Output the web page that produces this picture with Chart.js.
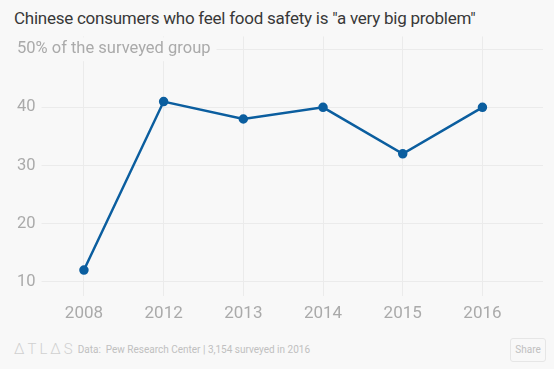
<!DOCTYPE html>
<html>
<head>
<meta charset="utf-8">
<script src="https://cdn.jsdelivr.net/npm/chart.js@4"></script>
<style>
  html, body { margin: 0; padding: 0; }
  body { width: 554px; height: 369px; background: #f8f8f8; position: relative; overflow: hidden; font-family: Roboto, sans-serif; }
  #title { position: absolute; left: 14px; top: 8px; font-size: 17px; letter-spacing: -0.25px; color: #383838; white-space: nowrap; }
  #wrap { position: absolute; left: 0; top: 0; width: 554px; height: 332px; }
  #footer { position: absolute; left: 14px; top: 340px; font-size: 10px; color: #c0c0c0; white-space: nowrap; }
  #logo { font-size: 15px; color: #d0d0d0; letter-spacing: 3px; margin-right: 2px; font-weight: 300; vertical-align: -1px; }
  #share { position: absolute; left: 510px; top: 338px; width: 34px; height: 22px; border: 1px solid #e6e6e6; border-radius: 3px; font-size: 10px; color: #c0c0c0; text-align: center; line-height: 22px; }
</style>
</head>
<body>
<div id="title">Chinese consumers who feel food safety is "a very big problem"</div>
<div id="wrap"><canvas id="chart"></canvas></div>
<div id="footer"><span id="logo">&#916;TL&#916;S</span>Data:&nbsp; Pew Research Center | 3,154 surveyed in 2016</div>
<div id="share">Share</div>
<script>
// survey years and share of people saying "a very big problem"
const years = ['2008', '2012', '2013', '2014', '2015', '2016'];
const percent = [12, 41, 38, 40, 32, 40];
const yTicks = [10, 20, 30, 40, 50];

const points = percent.map((v, i) => ({ x: i, y: v }));

new Chart(document.getElementById('chart'), {
  type: 'line',
  data: {
    datasets: [{
      data: points,
      borderColor: '#0b5e9f',
      backgroundColor: '#0b5e9f',
      borderWidth: 2.5,
      pointRadius: 3.5,
      pointHoverRadius: 3.5,
      tension: 0
    }]
  },
  options: {
    responsive: true,
    maintainAspectRatio: false,
    animation: false,
    layout: { padding: { left: 11, right: 11, top: 36.5, bottom: 0 } },
    plugins: { legend: { display: false }, tooltip: { enabled: false } },
    scales: {
      x: {
        type: 'linear',
        min: -0.865,
        max: 5.76,
        afterBuildTicks: axis => { axis.ticks = years.map((y, i) => ({ value: i })); },
        grid: { color: '#ebebeb', drawTicks: false },
        border: { display: false },
        ticks: {
          padding: 8,
          color: '#aaa',
          font: { family: 'Roboto', size: 17 },
          callback: v => years[v]
        }
      },
      y: {
        min: 7.6,
        max: 52.2,
        afterBuildTicks: axis => { axis.ticks = yTicks.map(v => ({ value: v })); },
        grid: { color: '#ebebeb', drawTicks: false },
        border: { display: false },
        ticks: {
          mirror: true,
          padding: 2,
          color: '#aaa',
          font: { family: 'Roboto', size: 16.5 },
          showLabelBackdrop: true,
          backdropColor: '#f8f8f8',
          backdropPadding: { left: 2, right: 6, top: 2, bottom: 2 },
          callback: v => v === 50 ? '50% of the surveyed group' : String(v)
        }
      }
    }
  }
});
</script>
</body>
</html>
